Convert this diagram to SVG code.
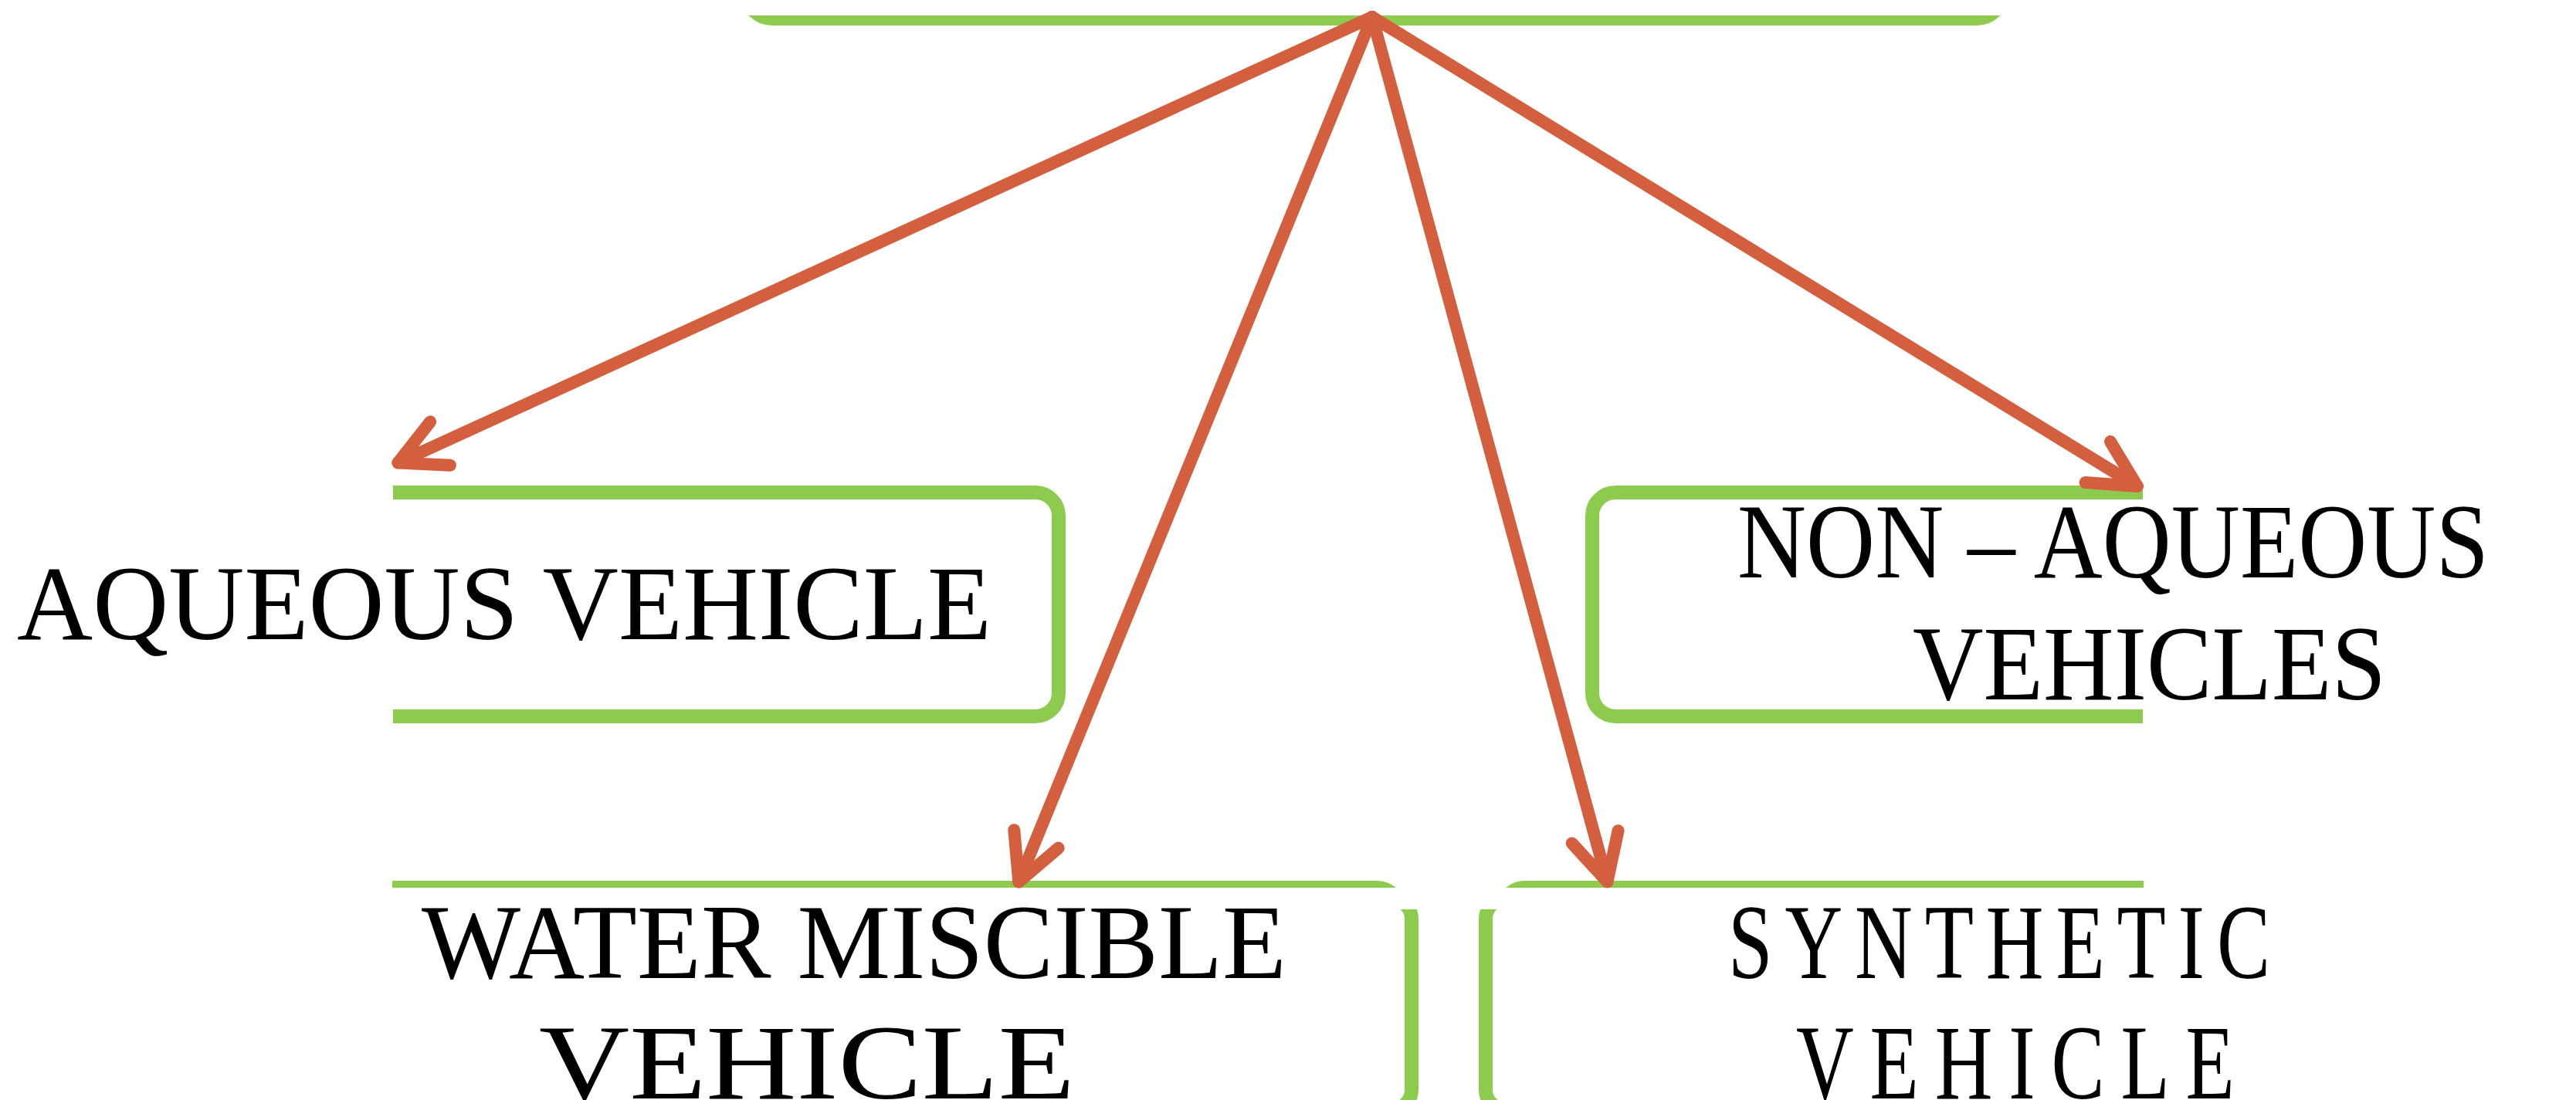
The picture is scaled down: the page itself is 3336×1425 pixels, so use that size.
<svg xmlns="http://www.w3.org/2000/svg" width="3336" height="1425" viewBox="0 0 3336 1425">
  <style>
    .box { fill: none; stroke: #8DCB4F; stroke-width: 18; }
    .barbox { fill: none; stroke: #8DCB4F; stroke-width: 14; }
    .arrow { fill: none; stroke: #D35F3F; stroke-width: 16; stroke-linecap: round; }
    .label { font-family: "Liberation Serif", "Times New Roman", serif; font-size: 138px; fill: #000000; }
  </style>
  <defs>
    <marker id="head" markerUnits="userSpaceOnUse" markerWidth="160" markerHeight="160" viewBox="-80 -80 160 160" refX="0" refY="0" orient="auto" overflow="visible">
      <path d="M -60 -31 L 0 0 L -60 31" fill="none" stroke="#D35F3F" stroke-width="16" stroke-linecap="round" stroke-linejoin="round"/>
    </marker>
    <clipPath id="clipTop"><rect x="0" y="20" width="3336" height="100"/></clipPath>
    <clipPath id="clipAq"><rect x="509" y="0" width="2827" height="1425"/></clipPath>
    <clipPath id="clipNon"><rect x="0" y="0" width="2775" height="1425"/></clipPath>
    <clipPath id="clipWaterTop"><rect x="508" y="1100" width="1400" height="50"/></clipPath>
    <clipPath id="clipSynTop"><rect x="1900" y="1100" width="876" height="50"/></clipPath>
    <clipPath id="clipSides"><rect x="0" y="1178" width="3336" height="247"/></clipPath>
  </defs>

  <rect x="0" y="0" width="3336" height="1425" fill="#FFFFFF"/>

  <!-- root box: only its lower edge shows -->
  <g id="node-root">
    <rect class="barbox" x="965" y="-100" width="1630" height="126" rx="35" clip-path="url(#clipTop)"/>
  </g>

  <g id="node-aqueous">
    <rect class="box" x="300" y="638" width="1071" height="290" rx="30" clip-path="url(#clipAq)"/>
    <text class="label" x="22" y="828" textLength="1262" lengthAdjust="spacingAndGlyphs">AQUEOUS VEHICLE</text>
  </g>

  <g id="node-nonaqueous">
    <rect class="box" x="2062" y="638" width="1000" height="290" rx="30" clip-path="url(#clipNon)"/>
    <text class="label" x="2250" y="748" textLength="973" lengthAdjust="spacingAndGlyphs">NON – AQUEOUS</text>
    <text class="label" x="2477" y="906" textLength="613" lengthAdjust="spacingAndGlyphs">VEHICLES</text>
  </g>

  <g id="node-water">
    <path class="box" d="M 480 1150 L 1783 1150 A 30 30 0 0 1 1813 1180" clip-path="url(#clipWaterTop)"/>
    <path class="box" d="M 1790 1165 L 1803 1165 A 25 25 0 0 1 1828 1190 L 1828 1412 A 25 25 0 0 1 1803 1437 L 1790 1437" clip-path="url(#clipSides)"/>
    <text class="label" x="546" y="1267" textLength="1120" lengthAdjust="spacingAndGlyphs">WATER MISCIBLE</text>
    <text class="label" x="698" y="1423" textLength="694" lengthAdjust="spacingAndGlyphs">VEHICLE</text>
  </g>

  <g id="node-synthetic">
    <path class="box" d="M 2800 1150 L 1975 1150 A 30 30 0 0 0 1945 1180" clip-path="url(#clipSynTop)"/>
    <path class="box" d="M 1962 1165 L 1949 1165 A 25 25 0 0 0 1924 1190 L 1924 1412 A 25 25 0 0 0 1949 1437 L 1962 1437" clip-path="url(#clipSides)"/>
    <text class="label" transform="translate(2238 0) scale(0.75 1)" x="0" y="1267" textLength="936" lengthAdjust="spacing">SYNTHETIC</text>
    <text class="label" transform="translate(2326 0) scale(0.75 1)" x="0" y="1423" textLength="757" lengthAdjust="spacing">VEHICLE</text>
  </g>

  <g id="connectors">
    <line class="arrow" x1="1777" y1="22" x2="515.5" y2="599.5" marker-end="url(#head)"/>
    <line class="arrow" x1="1777" y1="22" x2="2767.9" y2="629.9" marker-end="url(#head)"/>
    <line class="arrow" x1="1777" y1="22" x2="1319.3" y2="1142.4" marker-end="url(#head)"/>
    <line class="arrow" x1="1777" y1="22" x2="2081.4" y2="1142.2" marker-end="url(#head)"/>
  </g>
</svg>
